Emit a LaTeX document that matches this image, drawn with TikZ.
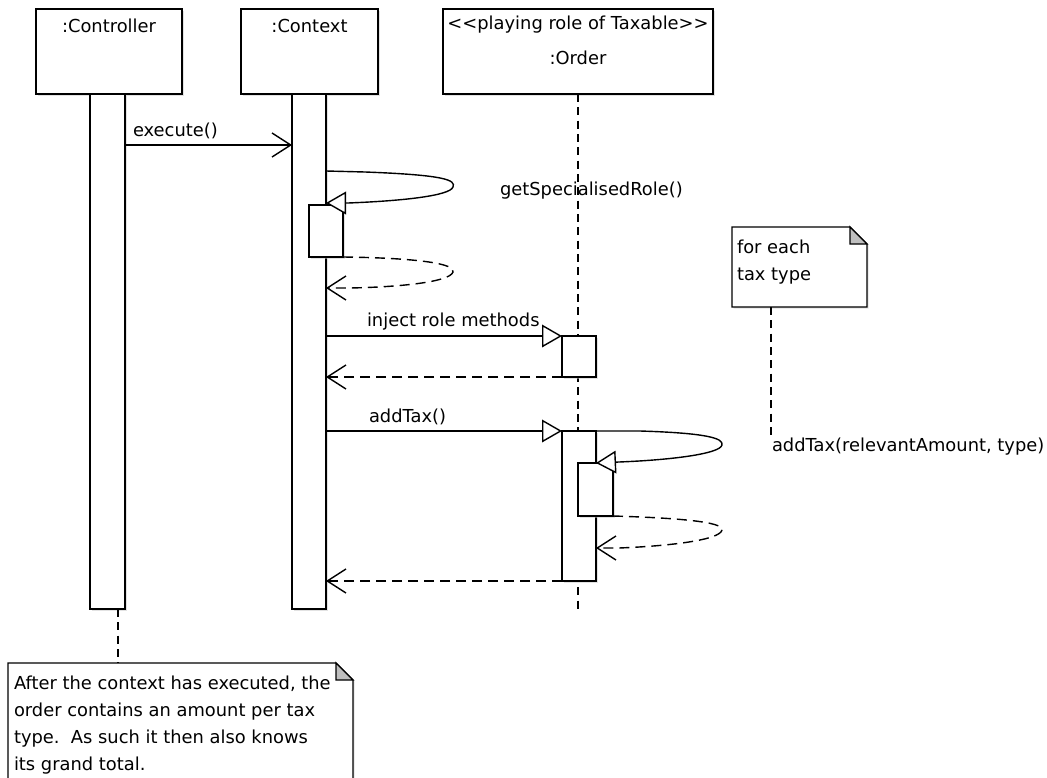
\documentclass[tikz,border=0pt]{standalone}
\usepackage{fontspec}
\newfontfamily\dv{DejaVu Sans}
\usetikzlibrary{arrows.meta,fit,shadows,calc}
\begin{document}
\begin{tikzpicture}[x=0.75pt,y=-0.75pt,line width=1.05pt,
  txt/.style={inner sep=0pt,outer sep=0pt,font=\dv\fontsize{13.4}{20.3}\selectfont},
  shadowed/.style={drop shadow={shadow xshift=1.2pt,shadow yshift=-1.2pt,fill=black!22}},
  headbox/.style={draw,fill=white,inner sep=0pt,outer sep=0pt,shadowed},
  bar/.style={draw,fill=white,inner sep=0pt,outer sep=0pt,shadowed},
  lifeline/.style={dash pattern=on 6pt off 4pt},
  call/.style={-{Triangle[length=15pt,width=17pt,fill=white]}},
  sync/.style={-{Straight Barb[length=14pt,width=18pt]}},
  ret/.style={dash pattern=on 7.5pt off 4.5pt,-{Straight Barb[length=14pt,width=18pt]}},
  notebox/.style={inner sep=0pt,outer sep=0pt},
  fold/.style={fill=black!25}]
\clip (0,0) rectangle (1047,778);
\path[use as bounding box] (0,0) rectangle (1047,778);
\fill[white] (0,0) rectangle (1047,778);

% lifeline heads
\node[headbox,fit={(36,9) (182,94)}] (ctrl) {};
\node[txt,anchor=base] (ctrllbl) at (109,32) {:Controller};
\node[headbox,fit={(241,9) (378,94)}] (ctx) {};
\node[txt,anchor=base] (ctxlbl) at (309.5,32) {:Context};
\node[headbox,fit={(443,9) (713,94)}] (ord) {};
\node[txt,anchor=base] (ordst) at (578,29) {<<playing role of Taxable>>};
\node[txt,anchor=base] (ordlbl) at (578,64) {:Order};

% order lifeline
\coordinate (ordend) at (578,612);
\draw[lifeline] (ord.south) -- (ordend);

% activation bars
\node[bar,fit={(90,94) (125,609)}] (ctrlbar) {};
\node[bar,fit={(292,94) (326,609)}] (ctxbar) {};
\node[bar,fit={(309,205) (343,257)}] (ctxact) {};
\node[bar,fit={(562,336) (596,377)}] (ordact1) {};
\node[bar,fit={(562,431) (596,581)}] (ordact2) {};
\node[bar,fit={(578,463) (613,516)}] (ordact3) {};

% execute()
\draw[sync] (ctrlbar.east |- 0,145) -- (ctxbar.west |- 0,145);
\node[txt,anchor=base west] (execlbl) at (133,136) {execute()};

% getSpecialisedRole()
\draw[call] (ctxbar.east |- 0,171) -- (365,172) .. controls (445,175) and (456,180) .. (453,187)
  .. controls (450,196) and (400,201) .. (348,203) -- (ctxbar.east |- 0,203);
\node[txt,anchor=base west] (gsrlbl) at (500,195) {getSpecialisedRole()};
\draw[ret] (ctxact.south east) .. controls (420,258) and (456,264) .. (453,272)
  .. controls (450,282) and (400,287) .. (350,288) -- (ctxbar.east |- 0,288);

% inject role methods
\draw[call] (ctxbar.east |- ordact1.north) -- (ordact1.north west);
\node[txt,anchor=base west] (injlbl) at (367,326) {inject role methods};
\draw[ret] (ordact1.south west) -- (ctxbar.east |- ordact1.south);

% addTax()
\draw[call] (ctxbar.east |- ordact2.north) -- (ordact2.north west);
\node[txt,anchor=base west] (addlbl) at (369,422) {addTax()};

% addTax(relevantAmount, type)
\draw[call] (ordact2.north east) -- (640,431) .. controls (705,433) and (724,438) .. (722,445)
  .. controls (720,454) and (670,460) .. (619,462) -- (ordact2.east |- 0,463);
\node[txt,anchor=base west] (addtlbl) at (772,451) {addTax(relevantAmount, type)};
\draw[ret] (ordact3.south east) .. controls (680,518) and (724,522) .. (722,530)
  .. controls (720,540) and (670,546) .. (619,548) -- (ordact2.east |- 0,548);
\draw[ret] (ordact2.south west) -- (ctxbar.east |- ordact2.south);

% note: for each tax type
\node[notebox,fit={(732,227) (867,307)}] (note1) {};
\draw[fill=white,shadowed] (note1.north west) -- ($(note1.north east)+(-17,0)$) -- ($(note1.north east)+(0,17)$)
  -- (note1.south east) -- (note1.south west) -- cycle;
\draw[fold] ($(note1.north east)+(-17,0)$) -- ($(note1.north east)+(-17,17)$) -- ($(note1.north east)+(0,17)$) -- cycle;
\node[txt,anchor=north west,align=left] (note1txt) at (737,239.6) {for each\\tax type};
\coordinate (n1end) at (771,438);
\draw[lifeline] (note1.south -| n1end) -- (n1end);

% note: after the context ...
\node[notebox,fit={(8,663) (353,800)}] (note2) {};
\draw[fill=white,shadowed] (note2.north west) -- ($(note2.north east)+(-17,0)$) -- ($(note2.north east)+(0,17)$)
  -- (note2.south east) -- (note2.south west) -- cycle;
\draw[fold] ($(note2.north east)+(-17,0)$) -- ($(note2.north east)+(-17,17)$) -- ($(note2.north east)+(0,17)$) -- cycle;
\node[txt,anchor=north west,align=left] (note2txt) at (14,675.6)
  {After the context has executed, the\\order contains an amount per tax\\type.\ \ As such it then also knows\\its grand total.};
\coordinate (n2top) at (118,663);
\draw[lifeline] (ctrlbar.south -| n2top) -- (n2top);
\end{tikzpicture}
\end{document}
